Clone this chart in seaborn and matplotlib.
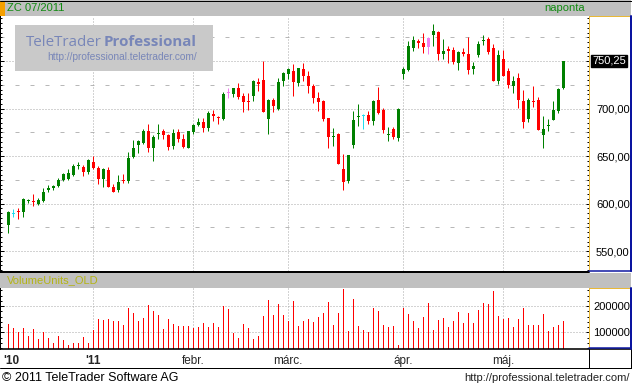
import numpy as np
import pandas as pd
import matplotlib.pyplot as plt
from matplotlib.patches import Rectangle
from matplotlib.ticker import MultipleLocator
import seaborn as sns

# ZC 07/2011 napi gyertyák (értékek)
opens = [577, 589, 592, 591, 602.5, 602.5, 600, 603, 614, 616,
         619, 625, 626, 630.5, 639.5, 639, 633, 643.5, 637.5, 625.5,
         635, 617, 614, 624.5, 624, 649, 661.5, 663.5, 676, 658,
         673.5, 676, 672, 660.5, 675, 668.5, 659, 675, 682.5, 686,
         680, 694, 691, 689.5, 716, 715, 722, 713, 708, 713,
         728, 730.5, 689, 709, 700, 729, 736, 739.5, 727, 741.5,
         734, 723.5, 711, 708, 690, 670.5, 673, 636, 623.5, 661.5,
         691, 692.5, 693, 687, 709, 698, 672, 679, 669, 736,
         741, 764, 771, 769, 765, 777.5, 780.5, 757.5, 762.5, 761.5,
         748, 759.5, 757.5, 741.5, 756.5, 771.5, 773, 763.5, 729, 752,
         739.5, 723.5, 732, 707.5, 689.5, 708, 709, 672, 682, 688.5,
         697, 721.5]
highs = [592, 594, 595.5, 606, 605, 610.5, 606, 616, 620, 620,
         626.5, 632, 636, 642, 643.5, 641, 646.5, 650.5, 640, 637.5,
         638, 621, 630.5, 631.5, 654, 666.5, 667, 679, 683.5, 672,
         683.5, 678, 673, 678, 678, 673, 676.5, 683.5, 690.5, 690.5,
         697, 699, 692, 717.5, 722, 722, 727, 716, 716, 730,
         732, 750, 710, 711.5, 732, 738.5, 742.5, 747, 742.5, 748,
         739.5, 725.5, 717, 709, 690.5, 680, 674, 652.5, 651.5, 697,
         704.5, 694, 697, 709, 722.5, 700.5, 681, 681, 700.5, 744,
         771, 776.5, 773, 779.5, 775.5, 789, 781.5, 773, 766, 765,
         760.5, 763.5, 775.5, 749, 771, 777.5, 775.5, 768, 761.5, 761.5,
         742.5, 734, 737.5, 719.5, 711, 723.5, 712, 692, 689.5, 707.5,
         721.5, 750.25]
lows = [568.5, 585.5, 583.5, 585.5, 600.5, 597, 598, 602, 612.5, 614.5,
        617, 623.5, 625, 628.5, 636, 629, 631.5, 636, 620.5, 617,
        617, 612, 612.5, 622, 622, 648, 653, 662.5, 654, 644.5,
        667.5, 667.5, 656, 657, 664.5, 659, 658.5, 673, 681.5, 675,
        676, 687, 683.5, 688.5, 711, 712.5, 710.5, 696.5, 698.5, 708,
        718.5, 696.5, 673, 696, 698.5, 723.5, 731.5, 713, 724, 729,
        716.5, 706, 697.5, 687, 658.5, 660.5, 641.5, 614, 621.5, 658.5,
        681.5, 678, 683.5, 682.5, 694.5, 674, 666, 668.5, 666, 731,
        739.5, 760.5, 764, 759, 757.5, 766, 751, 752, 748, 747,
        740.5, 755.5, 736, 736, 754, 767, 757.5, 729, 725.5, 734,
        721.5, 716, 700.5, 680, 685.5, 701.5, 677, 658, 676, 687.5,
        695, 720.5]
closes = [591, 590, 591, 605, 603.5, 601.5, 604, 612.5, 616, 619,
          625, 631, 632, 640, 640.5, 633, 645.5, 637.5, 625.5, 636,
          617.5, 612, 623, 623.5, 648, 659, 666, 676, 658, 670.5,
          674.5, 672, 660, 674, 667.5, 660, 676, 682.5, 686, 680,
          695.5, 692, 690, 715, 716.5, 722, 712.5, 707, 707, 729,
          726, 696.5, 709, 702.5, 728.5, 737.5, 741.5, 728, 742.5, 734,
          724, 711, 707, 689, 670, 671.5, 641.5, 622.5, 651, 688.5,
          692, 693.5, 686.5, 707.5, 695.5, 677, 673, 670, 699.5, 741.5,
          766, 772, 769, 765, 774.5, 781.5, 757.5, 760.5, 760.5, 749,
          759.5, 757.5, 740.5, 744.5, 768, 772.5, 759.5, 729, 756, 734,
          724.5, 729, 709, 685.5, 709, 707, 677, 679, 682.5, 698,
          720.5, 750.25]
volumes = [131000, 117000, 100000, 117000, 86000, 113000, 74000, 100000, 77000, 59000,
           86000, 70000, 51000, 61000, 59000, 82000, 59000, 109000, 151000, 147000,
           151000, 144000, 144000, 127000, 194000, 174000, 144000, 153000, 204000, 182000,
           167000, 113000, 151000, 132000, 124000, 124000, 124000, 117000, 119000, 136000,
           120000, 136000, 120000, 200000, 190000, 96000, 78000, 132000, 117000, 74000,
           88000, 162000, 223000, 167000, 208000, 167000, 144000, 219000, 124000, 144000,
           151000, 140000, 159000, 174000, 215000, 128000, 174000, 267000, 105000, 228000,
           124000, 109000, 100000, 194000, 182000, 128000, 120000, 124000, 51000, 194000,
           170000, 144000, 117000, 159000, 213000, 109000, 147000, 155000, 120000, 144000,
           178000, 136000, 174000, 136000, 186000, 213000, 209000, 259000, 163000, 151000,
           155000, 120000, 151000, 194000, 128000, 128000, 128000, 170000, 105000, 120000,
           128000, 144000]

# kereskedési napok (hétvégék és tőzsdeszünnapok nélkül)
holidays = ["2010-12-24", "2011-01-17", "2011-02-21", "2011-04-22"]
dates = pd.bdate_range("2010-12-08", "2011-05-18", freq="C", holidays=holidays)
month_names = {1: "'11", 2: "febr.", 3: "márc.", 4: "ápr.", 5: "máj."}
first_year_label = "'10"
price_ticks = [550, 600, 650, 700, 750]
volume_ticks = [100000, 200000]

sns.set_theme(style="white")
plt.rcParams["font.family"] = ["Liberation Sans", "DejaVu Sans"]

W, H = 632, 386
PX = 0.72          # 1 pixel pontban (dpi=100)
UP, DOWN = "#008000", "#ff0000"
SPECIAL = {1: "#22dcee", 71: "#22dcee", 44: "#f07ef0", 84: "#f07ef0"}
GRID = "#a8a8a8"
YELLOW, BLUE = "#e8b838", "#0a14a0"
XL = (-8.3 / 5, (589 - 8.3) / 5)

df = pd.DataFrame({"date": dates, "open": opens, "high": highs,
                   "low": lows, "close": closes, "volume": volumes})
df["pos"] = np.arange(len(df))
new_month = df["date"].dt.month != df["date"].dt.month.shift()
month_starts = df[new_month].iloc[1:]
colors = [SPECIAL.get(i, UP if c >= o else DOWN)
          for i, (o, c) in enumerate(zip(df["open"], df["close"]))]

fig = plt.figure(figsize=(W / 100, H / 100), dpi=100)
fig.patch.set_facecolor("white")


def px_axes(x0, y0, x1, y1):
    return fig.add_axes([x0 / W, 1 - y1 / H, (x1 - x0) / W, (y1 - y0) / H])


def vgrid(axis):
    for m in month_starts["pos"]:
        axis.axvline(m, color=GRID, lw=PX, ls=(0, (1, 2)), zorder=0)


# ── Árfolyam panel ────────────────────────────────
ax = px_axes(0, 15.5, 589, 271)
ax.set_xlim(XL)
ax.set_ylim(529, 798)
for p in range(550, 800, 50):
    ax.axhline(p, color=GRID, lw=PX, ls=(0, (1, 2)), zorder=0)
for p in range(575, 800, 50):
    ax.axhline(p, color="#b8b8b8", lw=PX, ls=(0, (4, 11)), zorder=0)
vgrid(ax)

ax.vlines(df["pos"], df["low"], df["high"], colors=colors, lw=PX, zorder=2)
body = np.maximum((df["close"] - df["open"]).abs(), 1.1)
ax.bar(df["pos"], body, bottom=np.minimum(df["open"], df["close"]),
       width=0.6, color=colors, linewidth=0, zorder=3)

ax.set_yticks(price_ticks,
              labels=["" if p == 750 else f"{p:.2f}".replace(".", ",") for p in price_ticks])
ax.yaxis.set_minor_locator(MultipleLocator(5))
ax.tick_params(axis="y", which="both", direction="in", left=True, right=True,
               labelleft=False, labelright=True, color="black", width=PX,
               pad=5, labelsize=8, labelcolor="black")
ax.tick_params(axis="y", which="major", length=3.5 * PX)
ax.tick_params(axis="y", which="minor", length=2 * PX)
ax.tick_params(axis="x", which="both", bottom=False, labelbottom=False)
for s in ["top", "bottom"]:
    ax.spines[s].set_visible(False)
ax.spines["left"].set(color="black", lw=PX)
ax.spines["right"].set(color=YELLOW, lw=PX)

last = df["close"].iloc[-1]
ax.text(1 + 3 / 589, last, f"{last:.2f}".replace(".", ","),
        transform=ax.get_yaxis_transform(), ha="left", va="center",
        color="white", fontsize=8,
        bbox=dict(boxstyle="square,pad=0.12", fc="black", ec="black"))

# ── Forgalom panel ────────────────────────────────
vx = px_axes(0, 287.5, 589, 348.5)
sns.barplot(data=df, x="pos", y="volume", native_scale=True, orient="x",
            color=DOWN, saturation=1, width=0.3, errorbar=None,
            linewidth=0, ax=vx)
vx.set_xlim(XL)
vx.set_ylim(38500, 271000)
vx.set_xlabel("")
vx.set_ylabel("")
for v in volume_ticks:
    vx.axhline(v, color=GRID, lw=PX, ls=(0, (1, 2)), zorder=0)
vgrid(vx)
vx.set_yticks(volume_ticks, labels=[str(v) for v in volume_ticks])
vx.yaxis.set_minor_locator(MultipleLocator(20000))
vx.tick_params(axis="y", which="both", direction="in", left=True, right=True,
               labelleft=False, labelright=True, color="black", width=PX,
               pad=3, labelsize=8, labelcolor="black")
vx.tick_params(axis="y", which="major", length=3.5 * PX)
vx.tick_params(axis="y", which="minor", length=2 * PX)
vx.tick_params(axis="x", which="both", bottom=False, labelbottom=False)
for s in ["top", "bottom"]:
    vx.spines[s].set_visible(False)
vx.spines["left"].set(color="black", lw=PX)
vx.spines["right"].set(color=YELLOW, lw=PX)

# ── Dátum sor ─────────────────────────────────────
dx = px_axes(0, 349, 589, 368)
dx.set_xlim(XL)
dx.set_ylim(0, 1)
dx.axis("off")
dx.text(XL[0] + 0.6, 0.2, first_year_label, ha="left", va="baseline",
        fontsize=8.5, fontweight="bold")
for _, row in month_starts.iterrows():
    m = row["date"].month
    dx.text(row["pos"], 0.2, month_names[m], ha="center", va="baseline",
            fontsize=8.5, fontweight="bold" if m == 1 else "normal")

# ── Keretek, fejlécek, vízjel ─────────────────────
ov = fig.add_axes([0, 0, 1, 1])
ov.set_xlim(0, W)
ov.set_ylim(H, 0)
ov.axis("off")
ov.set_zorder(10)
ov.patch.set_alpha(0)

ov.add_patch(Rectangle((0, 0), 631, 15.5, fc="#c0c0c0", ec="none"))
ov.add_patch(Rectangle((0, 1), 5, 14.5, fc="#f5a000", ec="none"))
ov.add_patch(Rectangle((0, 273), 631, 14.5, fc="#c0c0c0", ec="none"))
ov.plot([0, W], [0.5, 0.5], color="black", lw=PX)
ov.plot([0, 589], [272, 272], color="black", lw=2 * PX)
ov.plot([0, W], [349.2, 349.2], color="black", lw=1.6 * PX)
ov.plot([0, W], [368, 368], color="black", lw=PX)
ov.plot([588.5, 588.5], [349, 368], color="black", lw=PX)
ov.plot([631, 631], [349, 368], color="black", lw=PX)
for top, bottom in [(15.5, 271), (287.5, 348.5)]:
    ov.plot([589, 631], [top + 0.5, top + 0.5], color=YELLOW, lw=PX)
    ov.plot([631, 631], [top, bottom], color=BLUE, lw=2 * PX)
    ov.plot([589, 632], [bottom - 0.5, bottom - 0.5], color=BLUE, lw=1.5 * PX)

ov.text(7, 8.2, "ZC 07/2011", color="#108a10", fontsize=8, va="center")
ov.text(585, 8.2, "naponta", color="#108a10", fontsize=8, va="center", ha="right")
ov.text(7, 280.5, "VolumeUnits_OLD", color="#b4b414", fontsize=8, va="center")

ov.add_patch(Rectangle((15, 25), 198, 46, fc="#c9c9c9", ec="none"))
WM = "#7886b8"
ov.text(26, 46, "TeleTrader", color=WM, fontsize=10.9, va="baseline",
        ha="left", family=["Open Sans", "DejaVu Sans"])
ov.text(104, 46, "Professional", color=WM, fontsize=10.9, va="baseline",
        ha="left", fontweight="bold", family=["Open Sans", "DejaVu Sans"])
ov.text(197, 60.5, "http://professional.teletrader.com/", color=WM,
        fontsize=7.3, va="baseline", ha="right")

ov.text(2, 381, "© 2011 TeleTrader Software AG", fontsize=9, va="baseline",
        color="black")
ov.text(630, 381, "http://professional.teletrader.com/", fontsize=8,
        va="baseline", ha="right", color="#202020")

fig.savefig("out.png", dpi=100)
plt.close(fig)
